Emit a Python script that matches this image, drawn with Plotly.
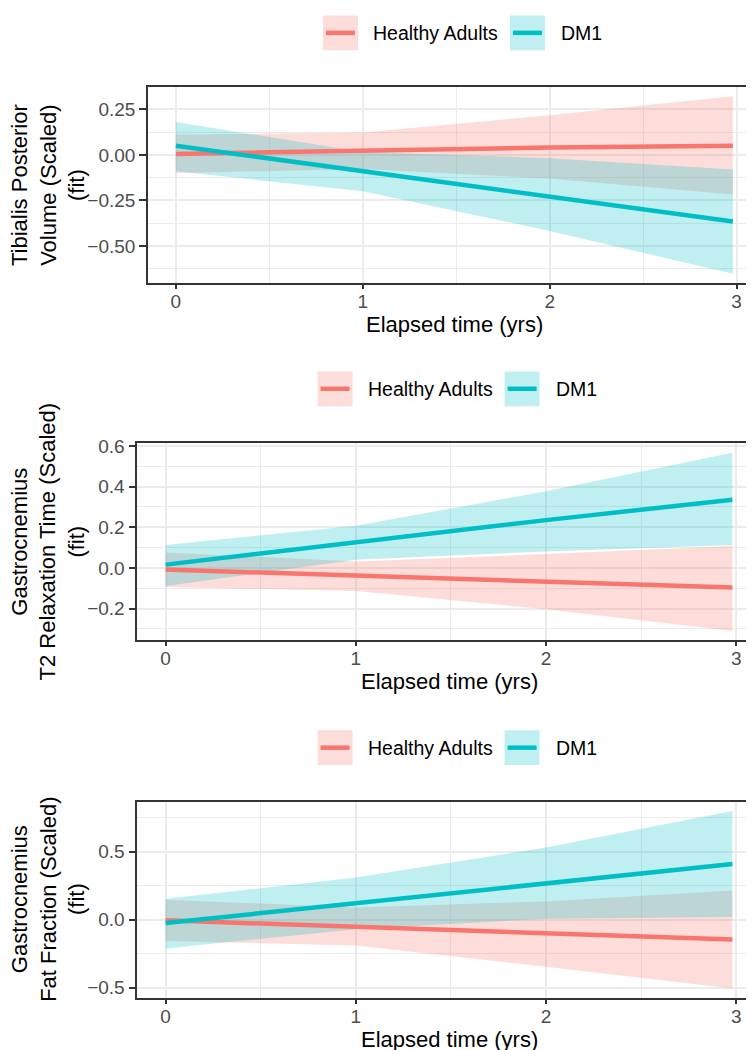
import plotly.graph_objects as go

# ---------------- data ----------------
elapsed_years = [0, 1, 2, 2.98]
groups = ["Healthy Adults", "DM1"]

# Panel 1: Tibialis Posterior Volume (Scaled)
tp_healthy_fit = [0.005, 0.022, 0.040, 0.050]
tp_healthy_lo = [-0.100, -0.078, -0.130, -0.217]
tp_healthy_hi = [0.110, 0.123, 0.217, 0.322]
tp_dm1_fit = [0.050, -0.090, -0.226, -0.366]
tp_dm1_lo = [-0.090, -0.200, -0.417, -0.652]
tp_dm1_hi = [0.180, 0.015, -0.018, -0.080]

# Panel 2: Gastrocnemius T2 Relaxation Time (Scaled)
t2_healthy_fit = [-0.008, -0.037, -0.068, -0.097]
t2_healthy_lo = [-0.094, -0.114, -0.203, -0.311]
t2_healthy_hi = [0.076, 0.032, 0.068, 0.108]
t2_dm1_fit = [0.016, 0.126, 0.235, 0.335]
t2_dm1_lo = [-0.089, 0.040, 0.081, 0.113]
t2_dm1_hi = [0.113, 0.207, 0.377, 0.567]

# Panel 3: Gastrocnemius Fat Fraction (Scaled)
ff_healthy_fit = [-0.005, -0.052, -0.098, -0.146]
ff_healthy_lo = [-0.156, -0.190, -0.346, -0.506]
ff_healthy_hi = [0.146, 0.090, 0.134, 0.214]
ff_dm1_fit = [-0.025, 0.120, 0.270, 0.409]
ff_dm1_lo = [-0.212, -0.070, 0.007, 0.019]
ff_dm1_hi = [0.153, 0.310, 0.530, 0.798]

y_titles = [
    "Tibialis Posterior<br>Volume (Scaled)<br>(fit)",
    "Gastrocnemius<br>T2 Relaxation Time (Scaled)<br>(fit)",
    "Gastrocnemius<br>Fat Fraction (Scaled)<br>(fit)",
]
x_title = "Elapsed time (yrs)"
x_ticks = [0, 1, 2, 3]

# ---------------- styling ----------------
W, H = 754, 1050
FONT = "Liberation Sans, Arial, Helvetica, sans-serif"
LINE_COL = {"Healthy Adults": "#F8766D", "DM1": "#00BFC4"}
FILL_COL = {"Healthy Adults": "rgba(248,118,109,0.25)", "DM1": "rgba(0,191,196,0.25)"}


def fx(p):
    return p / W


def fy(p):
    return 1 - p / H


panels = [
    dict(data={"Healthy Adults": (tp_healthy_fit, tp_healthy_lo, tp_healthy_hi),
               "DM1": (tp_dm1_fit, tp_dm1_lo, tp_dm1_hi)},
         box=(140, 752.7, 72, 269), yrange=[-0.701, 0.370], dtick=0.25, fmt=".2f"),
    dict(data={"Healthy Adults": (t2_healthy_fit, t2_healthy_lo, t2_healthy_hi),
               "DM1": (t2_dm1_fit, t2_dm1_lo, t2_dm1_hi)},
         box=(129.3, 752.7, 431, 629), yrange=[-0.353, 0.613], dtick=0.2, fmt=".1f"),
    dict(data={"Healthy Adults": (ff_healthy_fit, ff_healthy_lo, ff_healthy_hi),
               "DM1": (ff_dm1_fit, ff_dm1_lo, ff_dm1_hi)},
         box=(129.3, 752.7, 793, 990), yrange=[-0.572, 0.863], dtick=0.5, fmt=".1f"),
]

fig = go.Figure()
shapes = []
annotations = []

for i, p in enumerate(panels, start=1):
    xa = "x" if i == 1 else f"x{i}"
    ya = "y" if i == 1 else f"y{i}"
    # ribbons
    for g in groups:
        fit, lo, hi = p["data"][g]
        fig.add_trace(go.Scatter(x=elapsed_years, y=lo, mode="lines", line=dict(width=0),
                                 showlegend=False, hoverinfo="skip", xaxis=xa, yaxis=ya))
        fig.add_trace(go.Scatter(x=elapsed_years, y=hi, mode="lines", line=dict(width=0),
                                 fill="tonexty", fillcolor=FILL_COL[g], showlegend=False,
                                 hoverinfo="skip", xaxis=xa, yaxis=ya))
    # fitted lines
    for g in groups:
        fit, lo, hi = p["data"][g]
        fig.add_trace(go.Scatter(x=elapsed_years, y=fit, mode="lines", name=g,
                                 line=dict(color=LINE_COL[g], width=4.5),
                                 showlegend=False, xaxis=xa, yaxis=ya))

    x0, x1, y0, y1 = p["box"]
    axis_common = dict(
        showline=True, mirror=True, linecolor="#333333", linewidth=1.6,
        ticks="outside", tickwidth=1.6, tickcolor="#333333",
        tickfont=dict(family=FONT, size=19, color="#4D4D4D"),
        showgrid=True, gridcolor="#EBEBEB", gridwidth=1.8, zeroline=False,
    )
    fig.update_layout(**{
        ("xaxis" if i == 1 else f"xaxis{i}"): dict(
            axis_common, domain=[fx(x0), fx(x1)], range=[-0.149, 3.129],
            tickvals=x_ticks, anchor=ya, ticklen=5, ticklabelstandoff=-4,
            minor=dict(tickvals=[0.5, 1.5, 2.5], showgrid=True, gridcolor="#EBEBEB",
                       gridwidth=1.1, ticks="")),
        ("yaxis" if i == 1 else f"yaxis{i}"): dict(
            axis_common, domain=[fy(y1), fy(y0)], range=p["yrange"],
            dtick=p["dtick"], tick0=0, tickformat=p["fmt"], anchor=xa, ticklen=7,
            minor=dict(dtick=p["dtick"] / 2, tick0=p["dtick"] / 2, showgrid=True,
                       gridcolor="#EBEBEB", gridwidth=1.1, ticks="")),
    })

    # axis titles
    cx = (x0 + x1) / 2
    annotations.append(dict(text=x_title, x=fx(cx), y=fy(y1 + 42), xref="paper", yref="paper",
                            xanchor="center", yanchor="middle", showarrow=False,
                            font=dict(family=FONT, size=22, color="#000000")))
    annotations.append(dict(text=y_titles[i - 1], x=fx(40), y=fy((y0 + y1) / 2), xref="paper",
                            yref="paper", xanchor="center", yanchor="middle", showarrow=False,
                            textangle=-90, font=dict(family=FONT, size=22, color="#000000")))

    # legend (ggplot-style keys)
    ly = y0 - 55
    key_offsets = {"Healthy Adults": -131.4, "DM1": 55.6}
    text_offsets = {"Healthy Adults": -83.4, "DM1": 104.6}
    for g in groups:
        kx = cx + key_offsets[g]
        shapes.append(dict(type="rect", xref="paper", yref="paper",
                           x0=fx(kx), x1=fx(kx + 35), y0=fy(ly + 17.5), y1=fy(ly - 17.5),
                           fillcolor=FILL_COL[g], line=dict(width=0), layer="above"))
        shapes.append(dict(type="line", xref="paper", yref="paper",
                           x0=fx(kx + 3), x1=fx(kx + 32), y0=fy(ly), y1=fy(ly),
                           line=dict(color=LINE_COL[g], width=4.5), layer="above"))
        annotations.append(dict(text=g, x=fx(cx + text_offsets[g]), y=fy(ly), xref="paper",
                                yref="paper", xanchor="left", yanchor="middle", showarrow=False,
                                font=dict(family=FONT, size=19.5, color="#000000")))

fig.update_layout(
    width=W, height=H, margin=dict(l=0, r=0, t=0, b=0),
    paper_bgcolor="white", plot_bgcolor="white",
    showlegend=False, shapes=shapes, annotations=annotations,
    font=dict(family=FONT),
)

fig.write_html("out.html")
